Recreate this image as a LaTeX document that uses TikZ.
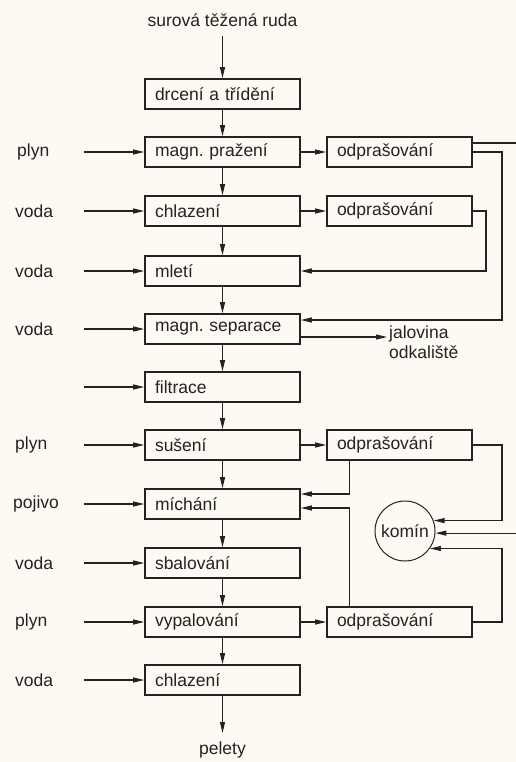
\documentclass[tikz,border=0pt]{standalone}
\usepackage{fontspec}
\setmainfont{Liberation Sans}
\usetikzlibrary{arrows.meta,calc}
\definecolor{ink}{RGB}{35,35,35}
\definecolor{paper}{RGB}{252,250,243}
\frenchspacing
\begin{document}
\begin{tikzpicture}[x=1pt,y=-1pt,
  every node/.style={text=ink},
  txt/.style={font=\fontsize{17.5}{20}\selectfont},
  box/.style={txt,draw=ink,line width=1.6pt,minimum height=30pt,text width=135pt,inner xsep=10pt,inner ysep=0pt,align=left},
  obox/.style={box,text width=125pt},
  lab/.style={txt,inner sep=0pt,anchor=west},
  conn/.style={draw=ink,line width=1.1pt,-{Triangle[length=11pt,width=5pt]}},
  wire/.style={draw=ink,line width=1.1pt}
]
\fill[paper] (0,0) rectangle (516,762);
\useasboundingbox (0,0) rectangle (516,762);

% main column
\node[txt,inner sep=0pt] (top) at (222.5,20) {surová těžená ruda};
\node[box] (b1) at (222.5,94) {drcení a třídění};
\node[box] (b2) at (222.5,152) {magn. pražení};
\node[box] (b3) at (222.5,211) {chlazení};
\node[box] (b4) at (222.5,271) {mletí};
\node[box] (b5) at (222.5,329) {magn. separace};
\node[box] (b6) at (222.5,387) {filtrace};
\node[box] (b7) at (222.5,445) {sušení};
\node[box] (b8) at (222.5,504) {míchání};
\node[box] (b9) at (222.5,563) {sbalování};
\node[box] (b10) at (222.5,622) {vypalování};
\node[box] (b11) at (222.5,680) {chlazení};
\node[txt,inner sep=0pt] (pel) at (222.5,750) {pelety};

% dedusting boxes
\node[obox] (o1) at (399.5,152) {odprašování};
\node[obox] (o2) at (399.5,211) {odprašování};
\node[obox] (o3) at (399.5,445) {odprašování};
\node[obox] (o4) at (399.5,622) {odprašování};

\node[txt,draw=ink,circle,line width=1pt,minimum size=60pt,inner sep=0pt] (kom) at (405,531) {komín};

\node[txt,inner sep=0pt,anchor=north west,align=left] (jal) at (389,326) {jalovina\\odkaliště};

% left labels
\node[lab] (l2) at (17,152) {plyn};
\node[lab] (l3) at (15,211) {voda};
\node[lab] (l4) at (15,271) {voda};
\node[lab] (l5) at (15,329) {voda};
\node[lab] (l7) at (15,445) {plyn};
\node[lab] (l8) at (13,504) {pojivo};
\node[lab] (l9) at (15,563) {voda};
\node[lab] (l10) at (15,622) {plyn};
\node[lab] (l11) at (15,680) {voda};

% input coordinates
\foreach \n in {2,3,4,5,6,7,8,9,10,11}{
  \coordinate (i\n) at (b\n.west -| 84,0);
  \draw[conn] (i\n) -- (b\n.west);
}

% main flow
\coordinate (s0) at (222.5,36);
\draw[conn] (s0) -- (b1.north);
\foreach \a/\b in {1/2,2/3,3/4,4/5,5/6,6/7,7/8,8/9,9/10,10/11}{
  \draw[conn] (b\a.south) -- (b\b.north);
}
\coordinate (pe) at (222.5,733);
\draw[conn] (b11.south) -- (pe);

% to dedusting
\draw[conn] (b2.east) -- (o1.west);
\draw[conn] (b3.east) -- (o2.west);
\draw[conn] (b7.east) -- (o3.west);
\draw[conn] (b10.east) -- (o4.west);

% jalovina
\coordinate (je) at (387,337);
\draw[conn] ([yshift=-8pt]b5.east) -- (je);

% returns
\draw[conn] (o1.east) -- (502,152) |- ([yshift=9pt]b5.east);
\draw[conn] (o2.east) -- (486,211) |- (b4.east);
\draw[conn] ([xshift=-50pt]o3.south) |- ([yshift=10pt]b8.east);
\draw[conn] ([xshift=-50pt]o4.north) |- ([yshift=-4pt]b8.east);

% to chimney
\draw[conn] (o3.east) -- (502,445) |- (kom.20);
\draw[conn] (o4.east) -- (502,622) |- (kom.-35);
\begin{scope}
\clip (0,0) rectangle (516,762);
\draw[conn] ([yshift=9pt]o1.east) -- (530,143) |- (kom.-4);
\end{scope}
\end{tikzpicture}
\end{document}
